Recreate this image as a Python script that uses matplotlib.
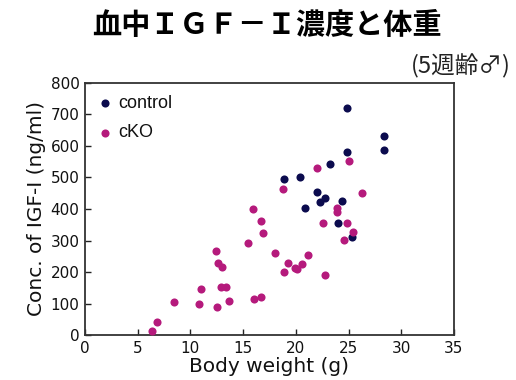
import matplotlib
matplotlib.use("Agg")
import matplotlib.pyplot as plt

plt.rcParams['font.family'] = ['DejaVu Sans']

# data (body weight g, IGF-I ng/ml)
control_x = [18.9, 20.4, 20.9, 22.0, 22.3, 22.8, 23.2, 24.0, 24.4, 24.9, 24.9, 25.3, 28.4, 28.4]
control_y = [495, 500, 404, 453, 422, 434, 543, 355, 426, 580, 720, 312, 586, 632]

cko_x = [6.4, 6.8, 8.4, 10.8, 11.0, 12.4, 12.5, 12.6, 12.9, 13.0, 13.4, 13.7,
         15.5, 15.9, 16.0, 16.7, 16.7, 16.9, 18.0, 18.8, 18.9, 19.3, 19.9, 20.1,
         20.6, 21.2, 22.0, 22.6, 22.8, 23.9, 23.9, 24.6, 24.9, 25.0, 25.4, 26.3]
cko_y = [13, 42, 105, 97, 146, 267, 88, 229, 152, 217, 152, 108,
         293, 400, 113, 362, 120, 325, 260, 462, 199, 228, 212, 210,
         224, 254, 530, 355, 191, 404, 392, 303, 357, 553, 326, 452]

x_ticks = [0, 5, 10, 15, 20, 25, 30, 35]
y_ticks = [0, 100, 200, 300, 400, 500, 600, 700, 800]

navy = '#0b0b4e'
magenta = '#b51a7c'

fig = plt.figure(figsize=(5.16, 3.80), dpi=100)
ax = fig.add_axes([0.1647, 0.1184, 0.7151, 0.6632])

ax.scatter(control_x, control_y, s=34, color=navy, zorder=3, linewidths=0)
ax.scatter(cko_x, cko_y, s=34, color=magenta, zorder=3, linewidths=0)

ax.set_xlim(0, 35)
ax.set_ylim(0, 800)
ax.set_xticks(x_ticks)
ax.set_yticks(y_ticks)
ax.tick_params(direction='in', length=4, width=1, labelsize=11, colors='#222222', pad=4)
for lbl in ax.get_xticklabels() + ax.get_yticklabels():
    lbl.set_color('#111111')
for sp in ax.spines.values():
    sp.set_color('#333333')
    sp.set_linewidth(1.3)

ax.set_xlabel('Body weight (g)', fontsize=14.5, labelpad=1, color='#111111')
ax.set_ylabel('Conc. of IGF-I (ng/ml)', fontsize=14.5, labelpad=3, color='#111111')

# legend
ax.scatter([1.9], [735], s=34, color=navy, linewidths=0)
ax.text(3.2, 735, 'control', fontsize=13, va='center', ha='left', color='#111111',
        family=['Liberation Sans'])
ax.scatter([1.9], [642], s=34, color=magenta, linewidths=0)
ax.text(3.2, 642, 'cKO', fontsize=13, va='center', ha='left', color='#111111',
        family=['Liberation Sans'])

fig.text(0.518, 0.935, '血中ＩＧＦ－Ｉ濃度と体重', ha='center', va='center', fontsize=21,
         fontweight='bold', family=['Noto Sans CJK JP', 'DejaVu Sans'])
fig.text(0.99, 0.825, '(5週齢♂)', ha='right', va='center', fontsize=17,
         family=['Noto Sans CJK JP', 'DejaVu Sans'], color='#222222')

fig.savefig('out.png', dpi=100)
